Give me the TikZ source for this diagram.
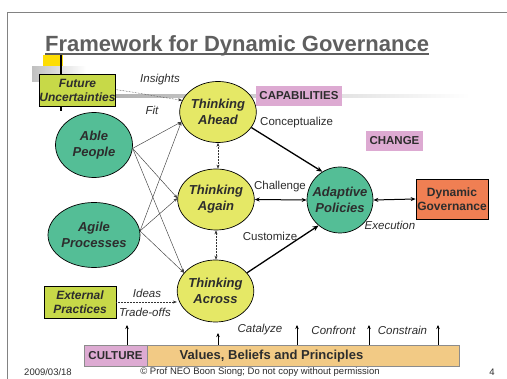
\documentclass[tikz,border=0pt]{standalone}
\usepackage{fontspec}
\setmainfont{Liberation Sans}
\usetikzlibrary{shapes.geometric,arrows.meta}

\definecolor{thinkyellow}{RGB}{229,232,102}
\definecolor{assetteal}{RGB}{84,190,150}
\definecolor{limegreen}{RGB}{199,217,72}
\definecolor{govorange}{RGB}{240,127,83}
\definecolor{tagpink}{RGB}{221,170,210}
\definecolor{valueorange}{RGB}{242,202,133}
\definecolor{titlegray}{RGB}{95,95,95}
\definecolor{textdark}{RGB}{45,45,45}
\definecolor{framegray}{RGB}{130,130,130}

\tikzset{
  think/.style={ellipse, draw=black, line width=0.7pt, fill=thinkyellow,
    inner sep=0pt, minimum width=69pt, minimum height=61pt, align=center,
    text=textdark, font=\fontsize{13}{16}\selectfont\bfseries\itshape},
  asset/.style={think, fill=assetteal, minimum width=77pt, minimum height=65pt},
  inbox/.style={rectangle, draw=black, line width=0.7pt, fill=limegreen,
    inner sep=0pt, minimum width=76pt, minimum height=32pt, align=center,
    text=textdark, font=\fontsize{12}{14}\selectfont\bfseries\itshape},
  tagbox/.style={rectangle, fill=tagpink, inner sep=0pt, minimum height=20pt,
    text=textdark, font=\fontsize{11.5}{13}\selectfont\bfseries},
  lbl/.style={inner sep=0pt, text=textdark, font=\fontsize{11.5}{13}\selectfont},
  ilbl/.style={lbl, font=\fontsize{11.5}{13}\selectfont\itshape},
  foot/.style={inner sep=0pt, text=textdark, font=\fontsize{9.5}{11}\selectfont},
  thin/.style={draw=black!75, line width=0.45pt, -{Stealth[length=4pt,width=3pt]}},
  bold/.style={draw=black, line width=1.3pt, -{Stealth[length=6pt,width=5pt]}},
  both/.style={draw=black, line width=1pt, {Stealth[length=5pt,width=4pt]}-{Stealth[length=5pt,width=4pt]}},
  dots/.style={draw=black!80, line width=0.5pt, densely dotted},
  up/.style={draw=black, line width=0.9pt, -{Stealth[length=4pt,width=3.5pt]}}
}

\begin{document}
\begin{tikzpicture}[x=1pt,y=-1pt]
\useasboundingbox (0,0) rectangle (507,379);
\fill[white] (0,0) rectangle (507,379);

% slide frame
\draw[framegray, line width=1pt] (7,379) -- (7,13) -- (507,13);

% title with underline
\node[inner sep=0pt, anchor=base west, text=titlegray,
  font=\fontsize{22}{26}\selectfont\bfseries] (title) at (45,51.5)
  {Framework for Dynamic Governance};
\draw[titlegray, line width=1.7pt] ([yshift=-2.6pt]title.base west) -- ([yshift=-2.6pt]title.base east);

% template ornament
\fill[yellow!80!orange] (43,55.5) rectangle (63,67);
\shade[left color=gray!50, right color=white] (32,67) rectangle (86,82);
\draw[black, line width=1.3pt] (61,55.5) -- (61,111);
\shade[left color=gray!70, right color=white] (60,94.8) rectangle (470,97.4);

% inputs
\node[inbox] (fu) at (77.5,90) {Future\\Uncertainties};
\node[inbox, minimum width=72pt] (ep) at (80,302) {External\\Practices};

% capabilities
\node[asset] (ap) at (94,145) {Able\\People};
\node[asset] (ag) at (94,235) {Agile\\Processes};

\node[think] (ta) at (218,112) {Thinking\\Ahead};
\node[think] (tg) at (216,199.5) {Thinking\\Again};
\node[think, minimum width=71pt, minimum height=62pt] (tx) at (215.5,291) {Thinking\\Across};

\node[think, circle, fill=assetteal, minimum size=66pt] (pol) at (340,200) {Adaptive\\Policies};

\node[rectangle, draw=black, line width=0.7pt, fill=govorange, inner sep=0pt,
  minimum width=72pt, minimum height=40pt, align=center, text=textdark,
  font=\fontsize{12}{14}\selectfont\bfseries] (dg) at (452,199) {Dynamic\\Governance};

\node[tagbox, minimum width=86pt] (cap) at (299,96) {CAPABILITIES};
\node[tagbox, minimum width=57pt] (chg) at (394.5,141) {CHANGE};

% culture bar
\node[rectangle, fill=valueorange, draw=black!45, line width=0.5pt, inner sep=0pt,
  minimum width=312pt, minimum height=21pt] (vb) at (303,355.5) {};
\node[tagbox, draw=black!45, line width=0.5pt, minimum width=63pt, minimum height=21pt] (cul) at (115.5,355.5) {CULTURE};
\node[inner sep=0pt, text=textdark, font=\fontsize{13}{15}\selectfont\bfseries] (vbt) at (271.5,356) {Values, Beliefs and Principles};

% capability links
\draw[thin] (ap.-5) -- (ta.195);
\draw[thin] (ap.-5) -- (tg.178);
\draw[thin] (ap.-5) -- (tx.150);
\draw[thin] (ag.5) -- (ta.195);
\draw[thin] (ag.5) -- (tg.178);
\draw[thin] (ag.5) -- (tx.150);

% external inputs
\draw[dots, -{Stealth[length=4pt,width=3pt]}] (fu.east |- 0,89.5) -- (ta.162);
\draw[dots, -{Stealth[length=4pt,width=3pt]}] (ep.east) -- (tx.west |- ep.east);

% links between thinking modes
\draw[dots, {Stealth[length=4pt,width=3pt]}-{Stealth[length=4pt,width=3pt]}] (ta.south) -- (ta.south |- tg.north);
\draw[dots, {Stealth[length=4pt,width=3pt]}-{Stealth[length=4pt,width=3pt]}] (tg.south) -- (tg.south |- tx.north);

% towards policies
\draw[bold] (ta.-25) -- (pol.122);
\draw[bold] (tx.30) -- (pol.-130);
\draw[both] (tg.east) -- (pol.west);
\draw[both] (pol.east) -- (dg.west);

% culture arrows
\coordinate (c1) at (127,325);
\coordinate (c2) at (218,333);
\coordinate (c3) at (297,325);
\coordinate (c4) at (369,325);
\coordinate (c5) at (438,325);
\draw[up] (c1 |- cul.north) -- (c1);
\draw[up] (c2 |- vb.north) -- (c2);
\draw[up] (c3 |- vb.north) -- (c3);
\draw[up] (c4 |- vb.north) -- (c4);
\draw[up] (c5 |- vb.north) -- (c5);

% labels
\node[ilbl] at (160,80) {Insights};
\node[ilbl] at (152,110) {Fit};
\node[lbl, anchor=west] at (260,123) {Conceptualize};
\node[lbl] at (280,187) {Challenge};
\node[lbl] at (270,236) {Customize};
\node[ilbl] at (390,225) {Execution};
\node[ilbl] at (147,293) {Ideas};
\node[ilbl] at (145,312) {Trade-offs};
\node[ilbl] at (260,330) {Catalyze};
\node[ilbl] at (333.5,330) {Confront};
\node[ilbl] at (402.5,330) {Constrain};

% footer
\node[foot] at (48,372) {2009/03/18};
\node[foot] at (260,372) {© Prof NEO Boon Siong; Do not copy without permission};
\node[foot] at (492,372) {4};
\end{tikzpicture}
\end{document}
